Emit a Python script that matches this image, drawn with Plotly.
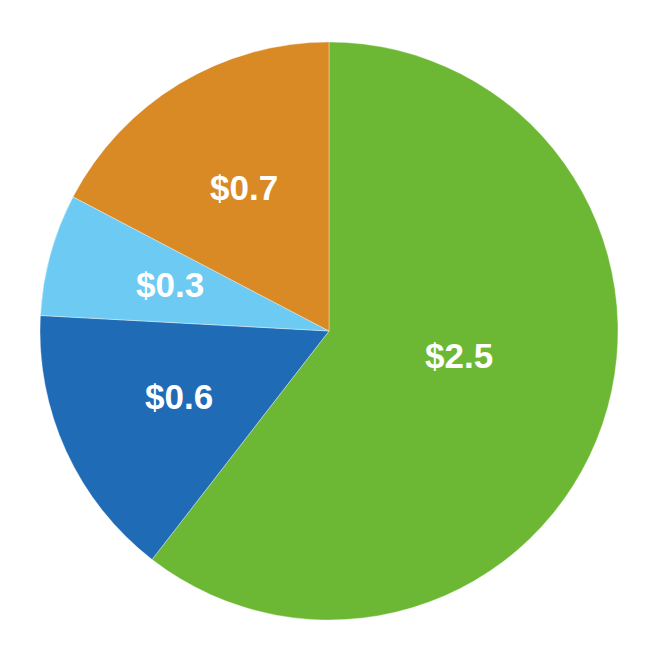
import math
import plotly.graph_objects as go

labels = ['A', 'B', 'C', 'D']
values = [2.48, 0.63, 0.28, 0.71]
text_labels = ['$2.5', '$0.6', '$0.3', '$0.7']
colors = ['#6cb834', '#1f6bb5', '#6dcbf3', '#d98a25']

W, H = 658, 660
# pie centre / radius in figure pixels
cx, cy, R = 321, 323, 289
# label placement: fraction of radius and angular nudge (degrees)
label_r = [0.46, 0.57, 0.57, 0.57]
label_nudge = [-7, 0, 0, 0]

fig = go.Figure(go.Pie(
    labels=labels,
    values=values,
    textinfo='none',
    marker=dict(colors=colors, line=dict(color='rgba(255,255,255,0.6)', width=0.6)),
    sort=False,
    direction='clockwise',
    rotation=0,
    domain=dict(x=[(cx - R) / W, (cx + R) / W], y=[1 - (cy + R) / H, 1 - (cy - R) / H]),
    hoverinfo='skip',
))

total = sum(values)
start = 0.0
annotations = []
for v, t, f, d in zip(values, text_labels, label_r, label_nudge):
    mid = (start + v / 2) / total * 2 * math.pi + math.radians(d)
    start += v
    px_ = cx + f * R * math.sin(mid)
    py_ = cy - f * R * math.cos(mid) - 3
    annotations.append(dict(
        x=px_ / W, y=1 - py_ / H, xref='paper', yref='paper',
        text='<b>' + t + '</b>', showarrow=False,
        xanchor='center', yanchor='middle',
        font=dict(family='Liberation Sans', size=35, color='white'),
    ))

fig.update_layout(
    width=W,
    height=H,
    margin=dict(l=0, r=0, t=0, b=0),
    paper_bgcolor='white',
    plot_bgcolor='white',
    showlegend=False,
    annotations=annotations,
)

fig.write_html("out.html")
